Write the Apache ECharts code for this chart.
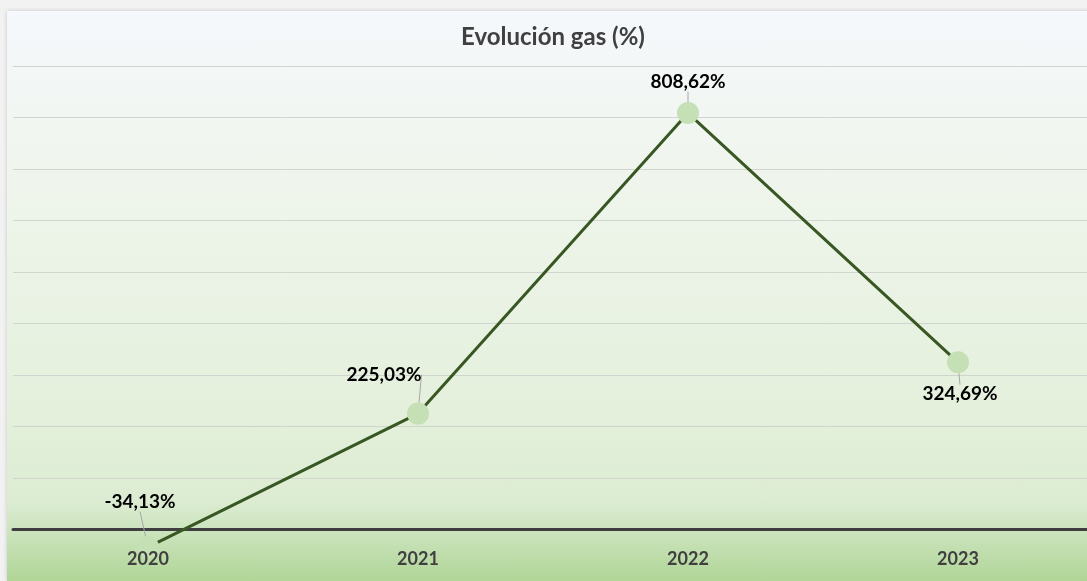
<!DOCTYPE html>
<html>
<head>
<meta charset="utf-8">
<script src="https://cdn.jsdelivr.net/npm/echarts@6/dist/echarts.min.js"></script>
<style>
  html, body { margin: 0; padding: 0; width: 1087px; height: 581px; overflow: hidden; background: #f2f2f2; }
  #chart {
    position: absolute; left: 7px; top: 11px; width: 1092px; height: 570px;
    background: linear-gradient(to bottom, #f5f8fc 0%, #eff5ec 30%, #e4f0dc 70%, #dcecd2 86%, #c9e3ba 92%, #b0d597 100%);
    box-shadow: 0 0 4px rgba(0, 0, 0, 0.18);
  }
</style>
</head>
<body>
<div id="chart"></div>
<script>
  // datos
  const years = ["2020", "2021", "2022", "2023"];
  const gasEvolution = [-34.13, 225.03, 808.62, 324.69];
  // desplazamiento de las etiquetas respecto al punto
  const labelShift = [[-8, -45], [-34, -39], [0, -31], [2, 32]];

  const fontFamily = "Lato, 'Open Sans', sans-serif";
  const chart = echarts.init(document.getElementById("chart"));

  const option = {
    animation: false,
    title: {
      text: "Evolución gas (%)",
      left: "center",
      top: 9,
      textStyle: { fontFamily: fontFamily, fontSize: 24, fontWeight: "bold", color: "#404040" },
    },
    grid: [
      { left: 6, right: 6, top: 55, bottom: 0, outerBoundsMode: "none", containLabel: false },
      { left: 6, right: 0, top: 55, bottom: 0, outerBoundsMode: "none", containLabel: false },
    ],
    xAxis: [
      {
        type: "category",
        gridIndex: 0,
        position: "bottom",
        data: years,
        boundaryGap: true,
        z: 5,
        axisLine: { show: false, onZero: false },
        axisTick: { show: false },
        axisLabel: {
          margin: -31,
          fontFamily: fontFamily,
          fontSize: 18,
          fontWeight: "bold",
          color: "#404040",
        },
      },
      {
        type: "value",
        gridIndex: 1,
        min: 0,
        max: 1,
        axisLine: { show: true, onZero: true, lineStyle: { color: "#3f3f3f", width: 3 } },
        axisTick: { show: false },
        axisLabel: { show: false },
        splitLine: { show: false },
      },
    ],
    yAxis: [
      {
        type: "value",
        gridIndex: 0,
        min: -100,
        max: 900,
        interval: 100,
        axisLine: { show: false },
        axisTick: { show: false },
        axisLabel: { show: false },
        splitLine: { show: false },
      },
      {
        type: "value",
        gridIndex: 1,
        min: -100,
        max: 900,
        interval: 100,
        axisLine: { show: false },
        axisTick: { show: false },
        axisLabel: { show: false },
        splitLine: { show: true, lineStyle: { color: "#d0d5ce", width: 1 } },
      },
    ],
    series: [
      {
        type: "line",
        xAxisIndex: 0,
        yAxisIndex: 0,
        data: gasEvolution,
        symbol: "circle",
        symbolSize: 22,
        itemStyle: { color: "#c5e0b4" },
        lineStyle: { color: "#385723", width: 3 },
        label: {
          show: true,
          position: "inside",
          fontFamily: fontFamily,
          fontSize: 19,
          fontWeight: "bold",
          color: "#000000",
          formatter: (p) => p.value.toFixed(2).replace(".", ",") + "%",
        },
        labelLine: {
          show: true,
          lineStyle: { color: "#a6a6a6", width: 1 },
        },
        labelLayout: (p) => ({
          dx: labelShift[p.dataIndex][0],
          dy: labelShift[p.dataIndex][1],
        }),
      },
    ],
  };

  chart.setOption(option);
</script>
</body>
</html>
